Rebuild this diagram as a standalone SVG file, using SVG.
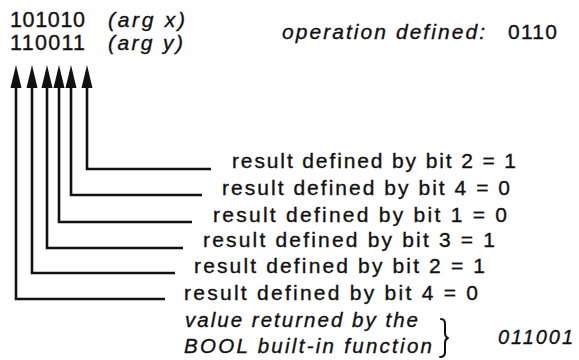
<svg xmlns="http://www.w3.org/2000/svg" width="579" height="360" viewBox="0 0 579 360">
  <style>
    .t { font-family: "Liberation Sans", Arial, Helvetica, sans-serif; fill: #111; stroke: #111; stroke-width: 0.35; }
    .i { font-style: italic; }
    .conn { fill: none; stroke: #111; stroke-width: 2.6; stroke-linejoin: miter; }
    .brace { fill: none; stroke: #111; stroke-width: 2; stroke-linecap: round; stroke-linejoin: round; }
  </style>
  <defs>
    <marker id="arrow" markerUnits="userSpaceOnUse" viewBox="0 -6 24 12" refX="0" refY="0" markerWidth="24" markerHeight="12" orient="auto">
      <path d="M0,-5.5 L23,0 L0,5.5 Z" fill="#111"/>
    </marker>
  </defs>
  <rect width="579" height="360" fill="#fff"/>

  <g id="args">
    <text class="t" x="10" y="27" font-size="21.5" textLength="75" lengthAdjust="spacing">101010</text>
    <text class="t i" x="108" y="27" font-size="21" textLength="77" lengthAdjust="spacing">(arg x)</text>
    <text class="t" x="10" y="50" font-size="21.5" textLength="75" lengthAdjust="spacing">110011</text>
    <text class="t i" x="108" y="50" font-size="21" textLength="75" lengthAdjust="spacing">(arg y)</text>
  </g>

  <g id="operation">
    <text class="t i" x="282" y="39" font-size="21" textLength="203" lengthAdjust="spacing">operation defined:</text>
    <text class="t" x="508" y="39" font-size="21" textLength="49" lengthAdjust="spacing">0110</text>
  </g>

  <g id="connectors">
    <path class="conn" d="M211,169 H87 V88" marker-end="url(#arrow)"/>
    <path class="conn" d="M202,195 H71 V88" marker-end="url(#arrow)"/>
    <path class="conn" d="M192,222 H59 V88" marker-end="url(#arrow)"/>
    <path class="conn" d="M183,248 H47 V88" marker-end="url(#arrow)"/>
    <path class="conn" d="M175,273 H32 V88" marker-end="url(#arrow)"/>
    <path class="conn" d="M165,299 H16 V88" marker-end="url(#arrow)"/>
  </g>

  <g id="row1"><text class="t" x="232" y="168" font-size="21" textLength="284" lengthAdjust="spacing">result defined by bit 2 = 1</text></g>
  <g id="row2"><text class="t" x="222" y="195" font-size="21" textLength="288" lengthAdjust="spacing">result defined by bit 4 = 0</text></g>
  <g id="row3"><text class="t" x="213" y="222" font-size="21" textLength="294" lengthAdjust="spacing">result defined by bit 1 = 0</text></g>
  <g id="row4"><text class="t" x="203" y="247" font-size="21" textLength="292" lengthAdjust="spacing">result defined by bit 3 = 1</text></g>
  <g id="row5"><text class="t" x="194" y="273" font-size="21" textLength="291" lengthAdjust="spacing">result defined by bit 2 = 1</text></g>
  <g id="row6"><text class="t" x="184" y="300" font-size="21" textLength="294" lengthAdjust="spacing">result defined by bit 4 = 0</text></g>

  <g id="result">
    <text class="t i" x="185" y="327" font-size="20.5" textLength="233" lengthAdjust="spacing">value returned by the</text>
    <text class="t i" x="184" y="353" font-size="20.5" textLength="248" lengthAdjust="spacing">BOOL built-in function</text>
    <path class="brace" d="M441,319 Q445,319 445,324 L445,333 Q445,337 448,338 Q445,339 445,343 L445,352 Q445,357 440,357"/>
    <text class="t i" x="498" y="344" font-size="20" textLength="75" lengthAdjust="spacing">011001</text>
  </g>
</svg>
